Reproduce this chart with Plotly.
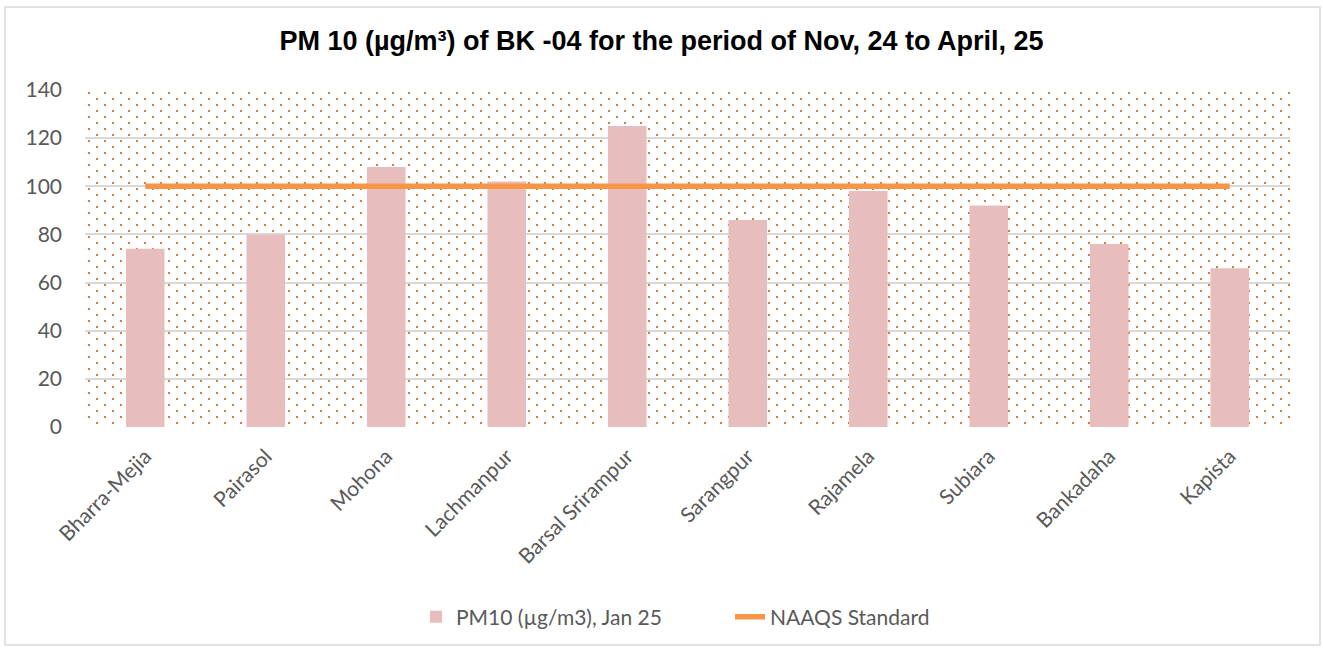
import base64
import plotly.graph_objects as go

categories = ["Bharra-Mejia", "Pairasol", "Mohona", "Lachmanpur", "Barsal Srirampur",
              "Sarangpur", "Rajamela", "Subiara", "Bankadaha", "Kapista"]
pm10_jan25 = [74, 80, 108, 102, 125, 86, 98, 92, 76, 66]
naaqs_standard = [100] * len(categories)
y_ticks = [0, 20, 40, 60, 80, 100, 120, 140]

idx = list(range(len(categories)))
n = len(categories)

# staggered dot pattern for the plot-area background (decoration only)
W, H = 1205, 337
svg = (f'<svg xmlns="http://www.w3.org/2000/svg" width="{W}" height="{H}">'
       '<defs><pattern id="p" width="16" height="12" patternUnits="userSpaceOnUse">'
       '<circle cx="4" cy="3" r="1.05" fill="#C55A11"/>'
       '<circle cx="12" cy="9" r="1.05" fill="#C55A11"/>'
       '</pattern></defs>'
       f'<rect width="{W}" height="{H}" fill="url(#p)"/></svg>')
svg_uri = "data:image/svg+xml;base64," + base64.b64encode(svg.encode()).decode()

fig = go.Figure()

fig.add_trace(go.Bar(
    x=idx, y=pm10_jan25, width=0.32, name="PM10 (µg/m3), Jan 25",
    marker=dict(color="#E8BDBD", line=dict(width=0))))

fig.add_trace(go.Scatter(
    x=idx, y=naaqs_standard, mode="lines", name="NAAQS Standard",
    line=dict(color="#F79646", width=5.5)))

pl, pr, pt, pb = 85, 1290, 90, 427
pw, ph = pr - pl, pb - pt

fig.update_layout(
    width=1323, height=649,
    margin=dict(l=pl, r=1323 - pr, t=pt, b=649 - pb),
    paper_bgcolor="white", plot_bgcolor="white",
    title=dict(text="PM 10 (µg/m³) of BK -04 for the period of Nov, 24 to April, 25",
               x=0.5, xanchor="center", y=1 - 41 / 649, yanchor="middle",
               font=dict(family="Liberation Sans, Arial", size=27, color="black", weight="bold")),
    font=dict(family="Lato", color="#595959"),
    legend=dict(orientation="h", x=(416 - pl) / pw, xanchor="left",
                y=(pb - 617) / ph, yanchor="middle", entrywidth=269,
                font=dict(size=21, color="#595959"), traceorder="normal"),
    xaxis=dict(range=[-0.5, n - 0.5], tickmode="array", tickvals=idx, ticktext=categories,
               tickangle=-45, tickfont=dict(size=21, color="#595959"),
               showgrid=False, zeroline=False, showline=False, ticks="",
               ticklabelstandoff=12),
    yaxis=dict(range=[0, 140], tickmode="array", tickvals=y_ticks,
               tickfont=dict(size=21, color="#595959"),
               showgrid=True, gridcolor="#D9D9D9", gridwidth=2,
               zeroline=False, showline=False, ticks="", ticklabelstandoff=22),
    images=[dict(source=svg_uri, xref="paper", yref="paper", x=0, y=1,
                 sizex=1, sizey=1, sizing="stretch", xanchor="left", yanchor="top",
                 layer="below")],
    shapes=[dict(type="rect", xref="paper", yref="paper",
                 x0=(5 - pl) / pw, x1=(1320 - pl) / pw,
                 y0=(pb - 645) / ph, y1=(pb - 7) / ph,
                 line=dict(color="#D9D9D9", width=1.5), fillcolor="rgba(0,0,0,0)", layer="below")],
)

fig.write_html("out.html", config={"displayModeBar": False},
               post_script="document.body.style.margin='0';")
